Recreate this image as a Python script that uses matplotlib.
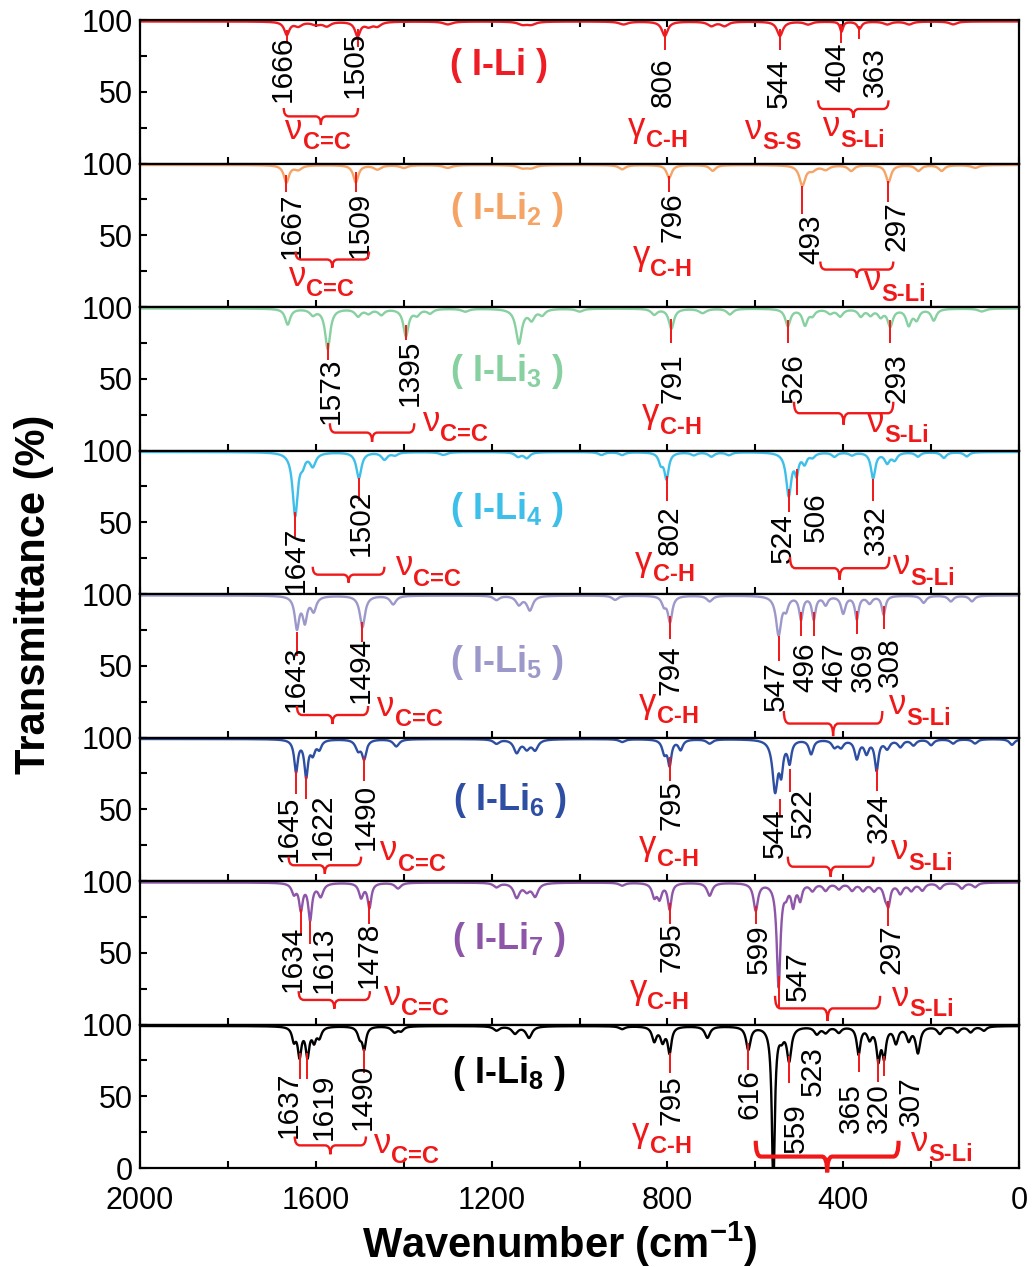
import numpy as np
import matplotlib.pyplot as plt
from matplotlib.path import Path
from matplotlib.patches import PathPatch

plt.rcParams['font.family'] = ['Liberation Sans', 'DejaVu Sans']
plt.rcParams['mathtext.fontset'] = 'custom'
plt.rcParams['mathtext.rm'] = 'Liberation Sans'
plt.rcParams['mathtext.bf'] = 'Liberation Sans:bold'
plt.rcParams['mathtext.it'] = 'Liberation Sans:italic'

# sample names and colours, top to bottom
names = ['( I-Li )', '( I-Li$_{\\mathbf{2}}$ )', '( I-Li$_{\\mathbf{3}}$ )',
         '( I-Li$_{\\mathbf{4}}$ )', '( I-Li$_{\\mathbf{5}}$ )', '( I-Li$_{\\mathbf{6}}$ )',
         '( I-Li$_{\\mathbf{7}}$ )', '( I-Li$_{\\mathbf{8}}$ )']
colors = ['#EE1C25', '#F5A465', '#87D0A0', '#3DBFEA',
          '#9C98CA', '#2D4EA2', '#8E56A8', '#000000']

# absorption bands: (wavenumber, depth %, half width)
peaks1 = [(1666, 9, 7), (1640, 3, 10), (1600, 2, 12), (1575, 3, 10), (1505, 10, 7),
          (1480, 3, 10), (1460, 3, 10), (1300, 2, 12), (1130, 2, 12), (1110, 2, 12),
          (900, 2, 12), (806, 10, 8), (700, 3, 10), (670, 3, 10), (544, 10, 8),
          (480, 2, 10), (404, 7, 4), (363, 5, 6), (300, 2, 10), (250, 2, 10), (150, 2, 10)]
peaks2 = [(1667, 12, 7), (1640, 3, 10), (1509, 12, 7), (1460, 3, 10), (1400, 2, 10),
          (1300, 2, 12), (1130, 2, 12), (1110, 2, 12), (903, 3, 9), (796, 9, 7),
          (697, 4, 8), (493, 14, 8), (470, 3, 10), (440, 3, 10), (382, 4, 8),
          (297, 12, 7), (229, 4, 8), (176, 4, 8), (100, 2, 10)]
peaks3 = [(1664, 11, 7), (1607, 4, 8), (1573, 28, 7), (1504, 5, 8), (1480, 3, 8),
          (1451, 4, 8), (1395, 19, 7), (1370, 4, 8), (1340, 3, 8), (1260, 2, 10),
          (1138, 24, 8), (1109, 7, 8), (1085, 4, 8), (1000, 2, 10), (830, 4, 8),
          (791, 14, 7), (720, 3, 10), (658, 4, 8), (526, 12, 7), (487, 11, 7),
          (470, 4, 7), (430, 3, 8), (407, 5, 8), (360, 5, 7), (338, 4, 7),
          (315, 5, 7), (293, 12, 7), (251, 11, 7), (233, 7, 7), (194, 8, 7), (85, 2, 10)]
peaks4 = [(1647, 44, 7), (1630, 6, 6), (1607, 9, 8), (1502, 18, 7), (1444, 5, 8),
          (1420, 2, 8), (1310, 2, 10), (1140, 3, 8), (1120, 4, 8), (950, 2, 8),
          (903, 2, 8), (815, 7, 6), (802, 18, 6), (740, 2, 8), (700, 3, 8),
          (660, 2, 8), (524, 30, 7), (506, 13, 5), (488, 7, 6), (470, 3, 7),
          (420, 3, 7), (380, 2, 7), (332, 18, 6), (300, 7, 7), (283, 5, 7),
          (230, 3, 7), (171, 4, 7), (119, 3, 7)]
peaks5 = [(1643, 22, 6), (1625, 17, 6), (1605, 10, 7), (1494, 22, 7), (1424, 6, 8),
          (1189, 3, 8), (1138, 6, 8), (1113, 10, 8), (919, 3, 8), (808, 6, 6),
          (794, 18, 6), (704, 4, 8), (547, 27, 7), (530, 8, 6), (496, 16, 5),
          (467, 16, 5), (440, 6, 6), (400, 12, 6), (369, 16, 5), (340, 5, 7),
          (308, 13, 5), (217, 5, 7), (155, 4, 7), (107, 4, 7)]
peaks6 = [(1645, 22, 5), (1622, 25, 5), (1607, 9, 6), (1592, 6, 6), (1504, 7, 7),
          (1490, 13, 6), (1417, 5, 8), (1189, 3, 8), (1143, 9, 8), (1120, 6, 8),
          (1101, 7, 8), (903, 2, 8), (807, 9, 6), (795, 17, 5), (770, 7, 6),
          (704, 3, 8), (555, 35, 7), (541, 20, 5), (522, 15, 5), (473, 10, 6),
          (420, 5, 7), (405, 5, 7), (369, 13, 6), (347, 9, 6), (324, 21, 5),
          (300, 6, 7), (270, 5, 7), (240, 4, 7), (200, 4, 7), (150, 3, 7),
          (100, 3, 7), (16, 4, 7)]
peaks7 = [(1650, 7, 6), (1634, 18, 5), (1613, 25, 5), (1589, 9, 7), (1497, 10, 6),
          (1478, 17, 5), (1413, 4, 8), (1189, 3, 8), (1143, 10, 8), (1120, 5, 8),
          (1101, 9, 8), (903, 2, 8), (830, 9, 6), (818, 10, 6), (795, 18, 5),
          (704, 9, 7), (599, 19, 6), (547, 72, 5), (530, 6, 5), (514, 15, 5),
          (498, 11, 5), (470, 5, 7), (440, 5, 7), (410, 4, 7), (380, 5, 7),
          (355, 5, 7), (330, 5, 7), (304, 8, 6), (297, 13, 5), (270, 7, 7),
          (245, 5, 7), (220, 5, 7), (180, 4, 7), (130, 4, 7), (100, 3, 7)]
peaks8 = [(1650, 9, 5), (1637, 20, 5), (1619, 20, 5), (1604, 9, 5), (1592, 7, 6),
          (1500, 7, 6), (1490, 15, 5), (1421, 4, 8), (1406, 3, 7), (1189, 3, 8),
          (1147, 5, 8), (1115, 8, 8), (903, 2, 8), (830, 10, 6), (811, 10, 6),
          (795, 18, 5), (709, 8, 7), (616, 16, 6), (559, 110, 4), (540, 6, 6),
          (523, 23, 6), (460, 5, 7), (440, 4, 7), (410, 4, 7), (365, 19, 5),
          (340, 8, 6), (320, 22, 5), (307, 20, 5), (280, 11, 6), (251, 9, 6),
          (230, 18, 6), (180, 5, 7), (140, 4, 7), (110, 4, 7), (80, 3, 7)]
peaks = [peaks1, peaks2, peaks3, peaks4, peaks5, peaks6, peaks7, peaks8]

# assigned peaks: (wavenumber, red mark top, red mark bottom)
marks = [
    [(1666, 93, 84), (1505, 94, 81), (806, 94, 79), (544, 94, 79), (404, 97, 84), (363, 96, 87)],
    [(1667, 92, 80), (1509, 94, 80), (796, 91, 80), (493, 84, 64.5), (297, 87.5, 73.5)],
    [(1573, 75, 63), (1395, 87.5, 77), (791, 92, 75), (526, 91, 75), (293, 91, 75)],
    [(1647, 57, 40), (1502, 81, 65), (802, 82, 65), (524, 73, 57.5), (506, 87, 69), (332, 80, 65)],
    [(1643, 73.5, 57), (1494, 80.5, 66.5), (794, 84.7, 68.6), (547, 71, 53),
     (496, 87.5, 71), (467, 87.5, 71), (369, 88, 72), (308, 91.6, 75.6)],
    [(1645, 77, 61), (1622, 73, 57), (1490, 86.6, 70), (795, 86.6, 70), (544, 57, 45),
     (522, 78, 62), (324, 78, 63)],
    [(1634, 80.5, 63), (1613, 72, 56), (1478, 86, 70), (795, 85, 70), (599, 82.6, 70),
     (547, 34, 12), (297, 86, 68.6)],
    [(1637, 80, 62), (1619, 80, 62), (1490, 83, 66), (795, 80, 66), (616, 87, 68),
     (523, 78, 59), (365, 80, 67), (320, 76, 60), (307, 78, 64)],
]

# peak labels: (text, x, top of text)
labels = [
    [('1666', 1676, 89.5), ('1505', 1511, 92), ('806', 811, 74), ('544', 546, 73.5),
     ('404', 414, 84), ('363', 329, 81)],
    [('1667', 1655, 80), ('1509', 1499, 80), ('796', 789, 80), ('493', 473, 64.5), ('297', 279, 73.5)],
    [('1573', 1566, 64.5), ('1395', 1387, 77), ('791', 789, 68), ('526', 512, 68), ('293', 279, 68)],
    [('1647', 1646, 47), ('1502', 1497, 73), ('802', 795, 62), ('524', 537, 56.6),
     ('506', 462, 70.7), ('332', 325, 62)],
    [('1643', 1646, 64), ('1494', 1497, 70), ('794', 793, 64), ('547', 553, 53),
     ('496', 485, 66.5), ('467', 420, 66.5), ('369', 355, 66.5), ('308', 293, 70)],
    [('1645', 1661, 59.6), ('1622', 1584, 61), ('1490', 1486, 68), ('795', 791, 70),
     ('544', 555, 50.5), ('522', 491, 64.5), ('324', 318, 61)],
    [('1634', 1653, 68.6), ('1613', 1581, 68.6), ('1478', 1479, 71.4), ('795', 791, 71.4),
     ('599', 592, 70), ('547', 503, 51), ('297', 290, 70)],
    [('1637', 1661, 67), ('1619', 1582, 66), ('1490', 1493, 72.8), ('795', 791, 64.5),
     ('616', 613, 69), ('559', 507, 45), ('523', 469, 84.7), ('365', 382, 59),
     ('320', 320, 59), ('307', 247, 64)],
]

# braces: (from, to, end height, tip height)
braces = [
    [(1673, 1504, 38.7, 27), (457, 297, 44, 32)],
    [(1646, 1479, 38.7, 27.5), (452, 286, 31.7, 20.5)],
    [(1568, 1376, 19, 6), (512, 286, 34, 18)],
    [(1607, 1444, 19, 8), (521, 295, 26, 10)],
    [(1643, 1481, 22, 9.4), (535, 311, 18.5, 1)],
    [(1662, 1497, 17, 5), (526, 331, 17, 3)],
    [(1639, 1477, 23.3, 11), (555, 316, 20, 2.5)],
    [(1648, 1486, 22, 9.6), (599, 274, 19, -3)],
]

# mode labels: (symbol, subscript, x centre, y centre)
modes = [
    [('ν', 'C=C', 1598, 19), ('γ', 'C-H', 818, 20.5), ('ν', 'S-S', 553, 19), ('ν', 'S-Li', 375, 21)],
    [('ν', 'C=C', 1590, 16.7), ('γ', 'C-H', 807, 31), ('ν', 'S-Li', 281, 13.6)],
    [('ν', 'C=C', 1285, 15.6), ('γ', 'C-H', 786, 21), ('ν', 'S-Li', 274, 15)],
    [('ν', 'C=C', 1347, 15), ('γ', 'C-H', 802, 18), ('ν', 'S-Li', 215, 15.6)],
    [('ν', 'C=C', 1389, 17), ('γ', 'C-H', 793, 19), ('ν', 'S-Li', 224, 18)],
    [('ν', 'C=C', 1382, 16.5), ('γ', 'C-H', 793, 20), ('ν', 'S-Li', 221, 17)],
    [('ν', 'C=C', 1374, 15.6), ('γ', 'C-H', 814, 20), ('ν', 'S-Li', 217, 15)],
    [('ν', 'C=C', 1397, 12.6), ('γ', 'C-H', 809, 20), ('ν', 'S-Li', 174, 14)],
]

name_pos = [(1184, 68.6), (1166, 68), (1166, 55), (1166, 59),
            (1166, 52.6), (1159, 56), (1161, 59.5), (1161, 66)]

RED = '#F01818'


def spectrum(wn, plist):
    t = np.full_like(wn, 99.0)
    for p, d, g in plist:
        t -= d * g ** 2 / ((wn - p) ** 2 + g ** 2)
    return np.clip(t, 0, 100)


def brace(ax, x0, x1, ye, yt, lw=1.6):
    xm = (x0 + x1) / 2
    yb = (ye + yt) / 2
    d = np.sign(x1 - x0)
    r = 12
    verts = [(x0, ye), (x0, yb), (x0 + d * r, yb), (xm - d * r, yb), (xm, yb), (xm, yt),
             (xm, yb), (xm + d * r, yb), (x1 - d * r, yb), (x1, yb), (x1, ye)]
    codes = [Path.MOVETO, Path.CURVE3, Path.CURVE3, Path.LINETO, Path.CURVE3, Path.CURVE3,
             Path.CURVE3, Path.CURVE3, Path.LINETO, Path.CURVE3, Path.CURVE3]
    ax.add_patch(PathPatch(Path(verts, codes), fill=False, ec=RED, lw=lw,
                           clip_on=False, zorder=5))


wn = np.linspace(2000, 0, 8001)

fig, axes = plt.subplots(8, 1, figsize=(10.32, 12.67), dpi=100, sharex=True)
fig.subplots_adjust(left=0.1357, right=0.9874, top=0.9842, bottom=0.0781, hspace=0)

for i, ax in enumerate(axes):
    ax.plot(wn, spectrum(wn, peaks[i]), color=colors[i], lw=1.7, zorder=2)
    ax.set_xlim(2000, 0)
    ax.set_ylim(0, 100)

    for p, top, bot in marks[i]:
        ax.vlines(p, bot, top, color=RED, lw=1.4, zorder=3)
    for s, x, y in labels[i]:
        ax.text(x, y, s, rotation=90, ha='center', va='top', fontsize=21.5, zorder=4)
    for k, (x0, x1, ye, yt) in enumerate(braces[i]):
        brace(ax, x0, x1, ye, yt, lw=3 if (i == 7 and k == 1) else 1.7)
    for sym, sub, x, y in modes[i]:
        ax.annotate(sym, (x, y), xytext=(-10, -2), textcoords='offset points',
                    ha='right', va='baseline', fontsize=25,
                    color=RED, annotation_clip=False)
        ax.annotate(sub, (x, y), xytext=(-10, -9.5), textcoords='offset points',
                    ha='left', va='baseline', fontsize=17, fontweight='bold',
                    color=RED, annotation_clip=False)
    ax.text(name_pos[i][0], name_pos[i][1], names[i], ha='center', va='center',
            fontsize=26, fontweight='bold', color=colors[i])

    ax.set_xticks([2000, 1600, 1200, 800, 400, 0])
    ax.set_xticks(np.arange(0, 2001, 200), minor=True)
    ax.set_yticks([0, 50, 100])
    ax.set_yticks([25, 75], minor=True)
    ax.set_yticklabels(['0' if i == 7 else '', '50', '100'])
    ax.tick_params(axis='both', which='both', direction='in', length=5, width=1.5,
                   labelsize=22, top=(i == 0), right=False)
    ax.tick_params(axis='x', pad=13)
    ax.tick_params(axis='y', pad=5)
    for sp in ax.spines.values():
        sp.set_linewidth(1.6)

fig.text(0.033, 0.531, 'Transmittance (%)', rotation=90, ha='center', va='center',
         fontsize=30, fontweight='bold')
fig.text(0.5426, 0.0071, 'Wavenumber (cm$^{\\mathbf{-1}}$)', ha='center', va='baseline',
         fontsize=30, fontweight='bold')

fig.savefig('out.png', dpi=100)
